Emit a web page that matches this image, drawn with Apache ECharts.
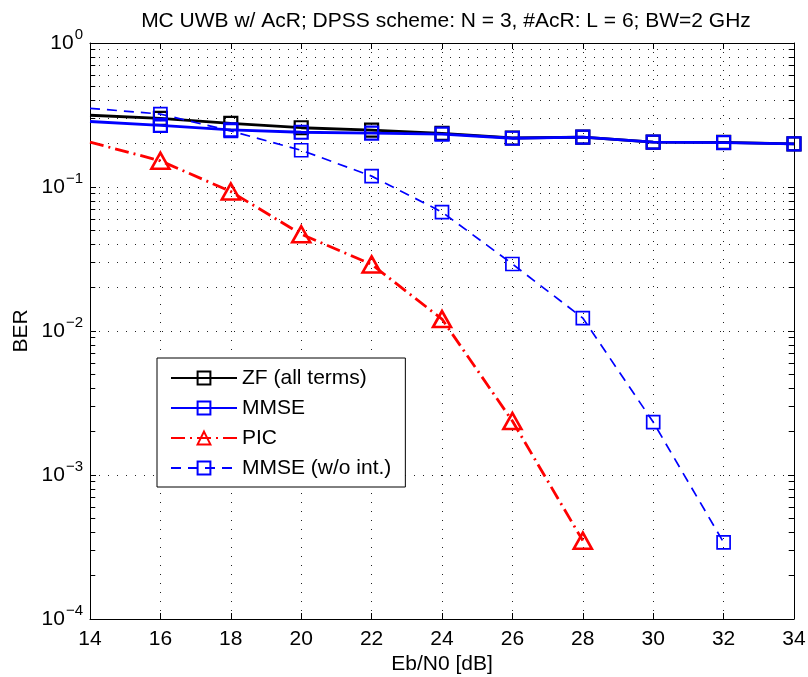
<!DOCTYPE html>
<html>
<head>
<meta charset="utf-8">
<script src="https://cdn.jsdelivr.net/npm/echarts@6/dist/echarts.min.js"></script>
<style>
html,body{margin:0;padding:0;background:#fff;}
#chart{width:808px;height:677px;}
</style>
</head>
<body>
<div id="chart"></div>
<script>
// ---- data ----
const ebn0 = [14, 16, 18, 20, 22, 24, 26, 28, 30, 32, 34];
const berZF = [0.315, 0.30, 0.277, 0.258, 0.248, 0.236, 0.219, 0.222, 0.205, 0.204, 0.199];
const berMMSE = [0.285, 0.268, 0.249, 0.240, 0.237, 0.233, 0.218, 0.222, 0.205, 0.203, 0.199];
const picX = [14, 16, 18, 20, 22, 24, 26, 28];
const berPIC = [0.205, 0.152, 0.093, 0.047, 0.029, 0.0121, 0.00237, 0.00035];
const woX = [14, 16, 18, 20, 22, 24, 26, 28, 30, 32];
const berMMSEwo = [0.352, 0.321, 0.245, 0.18, 0.119, 0.067, 0.0292, 0.0123, 0.00233, 0.00034];
const xTicks = [14, 16, 18, 20, 22, 24, 26, 28, 30, 32, 34];
const titleText = 'MC UWB w/ AcR; DPSS scheme: N = 3, #AcR: L = 6; BW=2 GHz';

const FONT = 'Liberation Sans';

function pairs(xs, ys, hideFirst) {
  return xs.map((x, i) => {
    const d = { value: [x, ys[i]] };
    if (hideFirst && i === 0) d.symbol = 'none';
    return d;
  });
}

// minor grid lines / ticks at 2..9 x 10^d
const minorVals = [];
for (let d = -4; d <= -1; d++) {
  for (let k = 2; k <= 9; k++) minorVals.push(k * Math.pow(10, d));
}
const minorGrid = minorVals.map(v => ({ yAxis: v }));
const tickLen = 0.15;
const minorTicks = [];
minorVals.forEach(v => {
  minorTicks.push([{ coord: [14, v] }, { coord: [14 + tickLen, v] }]);
  minorTicks.push([{ coord: [34, v] }, { coord: [34 - tickLen, v] }]);
});

const chart = echarts.init(document.getElementById('chart'), null, { renderer: 'canvas' });

const dotted = { color: '#222', width: 1, type: [1, 8] };

const option = {
  animation: false,
  backgroundColor: '#fff',
  textStyle: { fontFamily: FONT },
  title: {
    text: titleText,
    left: 441, top: 6, textAlign: 'center',
    textStyle: { fontFamily: FONT, fontSize: 21, fontWeight: 'normal', color: '#000' }
  },
  grid: { left: 90, top: 43, right: 14, bottom: 58, containLabel: false, outerBoundsMode: 'none' },
  legend: {
    orient: 'vertical',
    left: 157, top: 358,
    data: ['ZF (all terms)', 'MMSE', 'PIC', 'MMSE (w/o int.)'],
    backgroundColor: '#fff',
    borderColor: '#000', borderWidth: 1,
    padding: [8, 14, 7, 13],
    itemWidth: 66, itemHeight: 16, itemGap: 6,
    textStyle: { fontFamily: FONT, fontSize: 21, color: '#000', lineHeight: 24 }
  },
  xAxis: [{
    type: 'value', min: 14, max: 34, interval: 2,
    name: 'Eb/N0 [dB]', nameLocation: 'middle', nameGap: 35, nameMoveOverlap: false,
    nameTextStyle: { fontFamily: FONT, fontSize: 21, color: '#000', verticalAlign: 'top' },
    axisLine: { lineStyle: { color: '#000', width: 1 } },
    axisTick: { inside: true, length: 6, lineStyle: { color: '#000' } },
    axisLabel: { fontFamily: FONT, fontSize: 21, color: '#000', margin: 10,
      formatter: v => (xTicks.indexOf(v) >= 0 ? String(v) : '') },
    splitLine: { show: true, lineStyle: dotted }
  }, {
    type: 'value', min: 14, max: 34, interval: 2, position: 'top',
    axisLine: { show: true, lineStyle: { color: '#000', width: 1 } },
    axisTick: { inside: true, length: 6, lineStyle: { color: '#000' } },
    axisLabel: { show: false }, splitLine: { show: false }
  }],
  yAxis: [{
    type: 'log', logBase: 10, min: 1e-4, max: 1,
    name: 'BER', nameLocation: 'middle', nameGap: 58, nameMoveOverlap: false,
    nameTextStyle: { fontFamily: FONT, fontSize: 21, color: '#000' },
    axisLine: { show: true, lineStyle: { color: '#000', width: 1 } },
    axisTick: { show: true, inside: true, length: 6, lineStyle: { color: '#000' } },
    axisLabel: {
      margin: 7,
      formatter: v => {
        const e = Math.round(Math.log10(v));
        return '{b|10}{s|' + (e < 0 ? '\u2212' + (-e) : e) + '}';
      },
      rich: {
        b: { fontFamily: FONT, fontSize: 21, color: '#000' },
        s: { fontFamily: FONT, fontSize: 15, color: '#000', padding: [0, 0, 16, 1] }
      }
    },
    splitLine: { show: true, lineStyle: dotted }
  }, {
    type: 'log', logBase: 10, min: 1e-4, max: 1, position: 'right',
    axisLine: { show: true, lineStyle: { color: '#000', width: 1 } },
    axisTick: { show: true, inside: true, length: 6, lineStyle: { color: '#000' } },
    axisLabel: { show: false }, splitLine: { show: false }
  }],
  series: [
    {
      name: 'ZF (all terms)', type: 'line',
      data: pairs(ebn0, berZF, true),
      symbol: 'rect', symbolSize: 13,
      lineStyle: { color: '#000', width: 2.8 },
      itemStyle: { color: 'rgba(0,0,0,0)', borderColor: '#000', borderWidth: 2.2 },
      z: 3,
      markLine: {
        silent: true, symbol: 'none', z: 1, animation: false,
        label: { show: false },
        lineStyle: { color: '#222', width: 1, type: [1, 8] },
        emphasis: { disabled: true },
        data: minorGrid
      }
    },
    {
      name: 'MMSE', type: 'line',
      data: pairs(ebn0, berMMSE, true),
      symbol: 'rect', symbolSize: 13,
      lineStyle: { color: '#0000ff', width: 2.8 },
      itemStyle: { color: 'rgba(0,0,0,0)', borderColor: '#0000ff', borderWidth: 2.2 },
      z: 4,
      markLine: {
        silent: true, symbol: 'none', z: 1, animation: false,
        label: { show: false },
        lineStyle: { color: '#000', width: 1, type: 'solid' },
        emphasis: { disabled: true },
        data: minorTicks
      }
    },
    {
      name: 'PIC', type: 'line',
      data: pairs(picX, berPIC, true),
      symbol: 'triangle', symbolSize: [18, 16],
      lineStyle: { color: '#ff0000', width: 2.8, type: [14, 5, 2, 5] },
      itemStyle: { color: 'rgba(0,0,0,0)', borderColor: '#ff0000', borderWidth: 2.6 },
      z: 3
    },
    {
      name: 'MMSE (w/o int.)', type: 'line',
      data: pairs(woX, berMMSEwo, true),
      symbol: 'rect', symbolSize: 13,
      lineStyle: { color: '#0000ff', width: 1.7, type: [10, 7] },
      itemStyle: { color: 'rgba(0,0,0,0)', borderColor: '#0000ff', borderWidth: 1.7 },
      z: 3
    }
  ]
};
chart.setOption(option);
</script>
</body>
</html>
